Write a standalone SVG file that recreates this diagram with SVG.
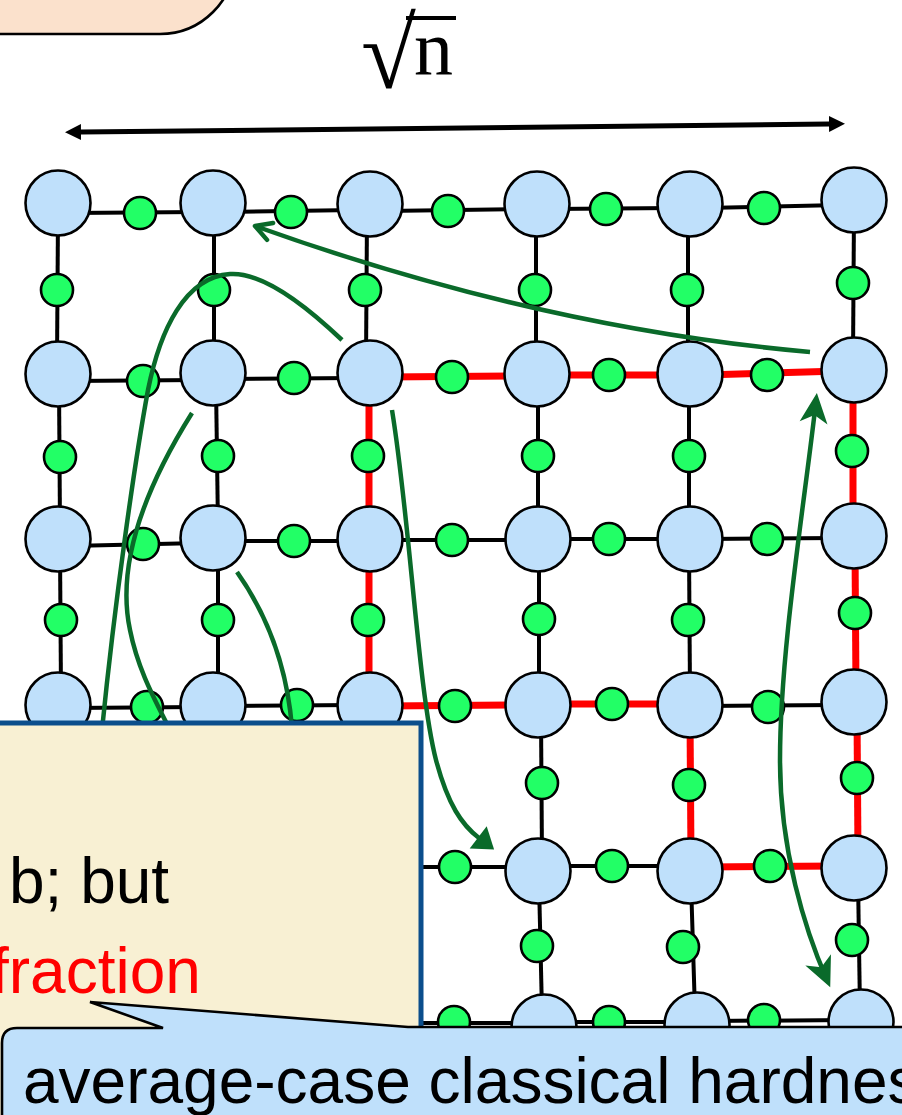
<svg xmlns="http://www.w3.org/2000/svg" width="902" height="1115" viewBox="0 0 902 1115">
<defs>
<style>
.e{stroke:#000;stroke-width:4;fill:none}
.r{stroke:#ff0000;stroke-width:7;fill:none}
.big{fill:#bfe0fb;stroke:#000;stroke-width:2.6}
.sm{fill:#22ff66;stroke:#000;stroke-width:2.6}
.ga{stroke:#0a6a2a;stroke-width:4.5;fill:none}
.t{font-family:"Liberation Sans",Arial,sans-serif;font-size:64px}
</style>
<marker id="blk" viewBox="0 -9 17 18" markerWidth="17" markerHeight="18" refX="0" refY="0" markerUnits="userSpaceOnUse" orient="auto-start-reverse">
<path d="M0,-8 L16,0 L0,8 Z" fill="#000"/>
</marker>
<marker id="openv" viewBox="-20 -12 24 24" markerWidth="24" markerHeight="24" refX="0" refY="0" markerUnits="userSpaceOnUse" orient="auto">
<path d="M-16,-9 L0,0 L-16,9" fill="none" stroke="#0a6a2a" stroke-width="4.5" stroke-linejoin="round" stroke-linecap="round"/>
</marker>
<marker id="tri" viewBox="-1 -15 23 30" markerWidth="23" markerHeight="30" refX="1" refY="0" markerUnits="userSpaceOnUse" orient="auto">
<path d="M0,-14 L20,0 L0,14 Z" fill="#0a6a2a"/>
</marker>
<marker id="stl" viewBox="-26 -16 36 32" markerWidth="36" markerHeight="32" refX="0" refY="0" markerUnits="userSpaceOnUse" orient="auto-start-reverse">
<path d="M8,0 L-22,-14 L-14,0 L-22,14 Z" fill="#0a6a2a"/>
</marker>
</defs>
<rect width="902" height="1115" fill="#fff"/>

<g id="title-box">
<rect x="-100" y="-200" width="335" height="234" rx="75" fill="#fbe1cc" stroke="#000" stroke-width="2.6"/>
</g>

<g id="sqrt-n-label">
<text x="361" y="88" font-family="'Liberation Serif','Times New Roman',serif" font-size="100">√</text>
<line x1="406" y1="18" x2="456" y2="18" stroke="#000" stroke-width="4"/>
<text x="414" y="75" font-family="'Liberation Serif','Times New Roman',serif" font-size="78">n</text>
</g>

<g id="connectors">
<line x1="81" y1="132" x2="829" y2="124" stroke="#000" stroke-width="5" marker-start="url(#blk)" marker-end="url(#blk)"/>
<line class="e" x1="70" y1="213" x2="200" y2="212"/>
<line class="e" x1="225" y1="212" x2="355" y2="210"/>
<line class="e" x1="385" y1="211" x2="525" y2="209"/>
<line class="e" x1="550" y1="209" x2="675" y2="208"/>
<line class="e" x1="705" y1="208" x2="840" y2="205"/>
<line class="e" x1="70" y1="381" x2="200" y2="380"/>
<line class="e" x1="225" y1="379" x2="355" y2="378"/>
<line class="r" x1="385" y1="377" x2="525" y2="376"/>
<line class="r" x1="550" y1="375" x2="675" y2="375"/>
<line class="r" x1="705" y1="375" x2="840" y2="371"/>
<line class="e" x1="70" y1="546" x2="200" y2="543"/>
<line class="e" x1="225" y1="541" x2="355" y2="541"/>
<line class="e" x1="385" y1="540" x2="525" y2="540"/>
<line class="e" x1="550" y1="539" x2="675" y2="539"/>
<line class="e" x1="705" y1="539" x2="840" y2="538"/>
<line class="e" x1="70" y1="708" x2="200" y2="707"/>
<line class="e" x1="225" y1="706" x2="355" y2="705"/>
<line class="r" x1="385" y1="706" x2="525" y2="705"/>
<line class="r" x1="550" y1="704" x2="675" y2="704"/>
<line class="e" x1="705" y1="706" x2="840" y2="705"/>
<line class="e" x1="410" y1="867" x2="525" y2="867"/>
<line class="e" x1="550" y1="866" x2="675" y2="866"/>
<line class="r" x1="705" y1="867" x2="840" y2="866"/>
<line class="e" x1="420" y1="1023" x2="530" y2="1023"/>
<line class="e" x1="560" y1="1022" x2="685" y2="1022"/>
<line class="e" x1="710" y1="1021" x2="850" y2="1020"/>
<line class="e" x1="58" y1="215" x2="57" y2="362"/>
<line class="e" x1="214" y1="215" x2="214" y2="362"/>
<line class="e" x1="367" y1="215" x2="366" y2="362"/>
<line class="e" x1="536" y1="215" x2="536" y2="362"/>
<line class="e" x1="688" y1="215" x2="688" y2="362"/>
<line class="e" x1="854" y1="212" x2="853" y2="358"/>
<line class="e" x1="59" y1="385" x2="60" y2="527"/>
<line class="e" x1="216" y1="385" x2="218" y2="527"/>
<line class="r" x1="369" y1="385" x2="369" y2="527"/>
<line class="e" x1="538" y1="385" x2="538" y2="527"/>
<line class="e" x1="689" y1="385" x2="689" y2="527"/>
<line class="r" x1="853" y1="382" x2="853" y2="524"/>
<line class="e" x1="60" y1="550" x2="61" y2="693"/>
<line class="e" x1="218" y1="550" x2="218" y2="693"/>
<line class="r" x1="369" y1="550" x2="369" y2="693"/>
<line class="e" x1="539" y1="550" x2="539" y2="693"/>
<line class="e" x1="689" y1="550" x2="690" y2="693"/>
<line class="r" x1="855" y1="548" x2="856" y2="690"/>
<line class="e" x1="541" y1="716" x2="542" y2="859"/>
<line class="r" x1="690" y1="716" x2="691" y2="859"/>
<line class="r" x1="857" y1="713" x2="858" y2="856"/>
<line class="e" x1="539" y1="882" x2="542" y2="1012"/>
<line class="e" x1="691" y1="882" x2="695" y2="1012"/>
<line class="e" x1="858" y1="879" x2="860" y2="1010"/>
</g>

<g id="qubits">
<circle class="sm" cx="140" cy="213" r="16"/><circle class="sm" cx="291" cy="212" r="16"/><circle class="sm" cx="448" cy="211" r="16"/><circle class="sm" cx="606" cy="209" r="16"/><circle class="sm" cx="764" cy="208" r="16"/>
<circle class="sm" cx="143" cy="381" r="16"/><circle class="sm" cx="294" cy="378" r="16"/><circle class="sm" cx="452" cy="377" r="16"/><circle class="sm" cx="609" cy="375" r="16"/><circle class="sm" cx="767" cy="375" r="16"/>
<circle class="sm" cx="143" cy="544" r="16"/><circle class="sm" cx="294" cy="541" r="16"/><circle class="sm" cx="452" cy="540" r="16"/><circle class="sm" cx="609" cy="539" r="16"/><circle class="sm" cx="767" cy="539" r="16"/>
<circle class="sm" cx="147" cy="707" r="16"/><circle class="sm" cx="297" cy="705" r="16"/><circle class="sm" cx="455" cy="706" r="16"/><circle class="sm" cx="612" cy="704" r="16"/><circle class="sm" cx="768" cy="707" r="16"/>
<circle class="sm" cx="455" cy="867" r="16"/><circle class="sm" cx="612" cy="866" r="16"/><circle class="sm" cx="770" cy="866" r="16"/>
<circle class="sm" cx="454" cy="1022" r="16"/><circle class="sm" cx="609" cy="1022" r="16"/><circle class="sm" cx="764" cy="1020" r="16"/>
<circle class="sm" cx="57" cy="290" r="16"/><circle class="sm" cx="214" cy="290" r="16"/><circle class="sm" cx="365" cy="290" r="16"/><circle class="sm" cx="535" cy="290" r="16"/><circle class="sm" cx="687" cy="290" r="16"/><circle class="sm" cx="853" cy="283" r="16"/>
<circle class="sm" cx="60" cy="457" r="16"/><circle class="sm" cx="218" cy="456" r="16"/><circle class="sm" cx="368" cy="456" r="16"/><circle class="sm" cx="538" cy="456" r="16"/><circle class="sm" cx="689" cy="456" r="16"/><circle class="sm" cx="852" cy="451" r="16"/>
<circle class="sm" cx="61" cy="620" r="16"/><circle class="sm" cx="218" cy="620" r="16"/><circle class="sm" cx="368" cy="620" r="16"/><circle class="sm" cx="539" cy="619" r="16"/><circle class="sm" cx="688" cy="620" r="16"/><circle class="sm" cx="855" cy="613" r="16"/>
<circle class="sm" cx="542" cy="783" r="16"/><circle class="sm" cx="689" cy="785" r="16"/><circle class="sm" cx="857" cy="778" r="16"/>
<circle class="sm" cx="537" cy="946" r="16"/><circle class="sm" cx="683" cy="947" r="16"/><circle class="sm" cx="852" cy="940" r="16"/>
</g>

<g id="sites">
<circle class="big" cx="58" cy="203" r="32.5"/><circle class="big" cx="213" cy="203" r="32.5"/><circle class="big" cx="370" cy="204" r="32.5"/><circle class="big" cx="537" cy="204" r="32.5"/><circle class="big" cx="690" cy="204" r="32.5"/><circle class="big" cx="854" cy="200" r="32.5"/>
<circle class="big" cx="58" cy="374" r="32.5"/><circle class="big" cx="213" cy="373" r="32.5"/><circle class="big" cx="370" cy="373" r="32.5"/><circle class="big" cx="537" cy="374" r="32.5"/><circle class="big" cx="690" cy="374" r="32.5"/><circle class="big" cx="854" cy="370" r="32.5"/>
<circle class="big" cx="58" cy="539" r="32.5"/><circle class="big" cx="213" cy="538" r="32.5"/><circle class="big" cx="370" cy="539" r="32.5"/><circle class="big" cx="538" cy="539" r="32.5"/><circle class="big" cx="690" cy="539" r="32.5"/><circle class="big" cx="854" cy="536" r="32.5"/>
<circle class="big" cx="58" cy="705" r="32.5"/><circle class="big" cx="213" cy="705" r="32.5"/><circle class="big" cx="370" cy="705" r="32.5"/><circle class="big" cx="538" cy="705" r="32.5"/><circle class="big" cx="690" cy="705" r="32.5"/><circle class="big" cx="854" cy="702" r="32.5"/>
<circle class="big" cx="538" cy="871" r="32.5"/><circle class="big" cx="690" cy="871" r="32.5"/><circle class="big" cx="854" cy="868" r="32.5"/>
<circle class="big" cx="544" cy="1027" r="32.5"/><circle class="big" cx="697" cy="1025" r="32.5"/><circle class="big" cx="861" cy="1022" r="32.5"/>
</g>

<g id="moves">
<path class="ga" d="M810,352 Q540,328 255,226" marker-end="url(#openv)"/>
<path class="ga" d="M342,340 C300,300 260,272 230,274 C185,277 160,330 148,390 C135,460 115,600 102,730"/>
<path class="ga" d="M192,413 C150,480 115,560 130,630 C138,670 155,700 170,730"/>
<path class="ga" d="M237,572 Q285,640 292,728"/>
<path class="ga" d="M392,410 C410,520 418,690 436,760 C448,805 462,825 479,838" marker-end="url(#tri)"/>
<path class="ga" d="M816,401 C805,500 780,650 780,760 C780,850 805,930 827,980" marker-start="url(#stl)" marker-end="url(#stl)"/>
</g>

<g id="note-box">
<rect x="-10" y="723" width="431" height="500" fill="#f8f0d3" stroke="#0b4e8c" stroke-width="5"/>
<text class="t" x="9" y="903" fill="#000">b; but</text>
<text class="t" x="-9" y="993" fill="#ff0000">fraction</text>
</g>

<g id="callout">
<path d="M2,1200 L2,1043 Q2,1028 17,1028 L163,1028 L90,1002 L408,1027 L920,1027 L920,1200 Z" fill="#bfe0fb" stroke="#000" stroke-width="2.6"/>
<text class="t" x="23" y="1103" fill="#000">average-case classical hardness</text>
</g>
</svg>
